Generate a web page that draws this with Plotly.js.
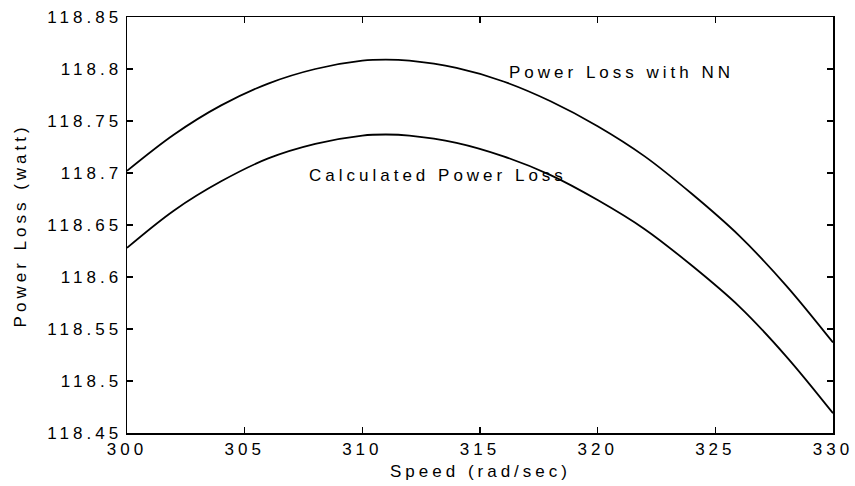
<!DOCTYPE html>
<html>
<head>
<meta charset="utf-8">
<script src="https://cdn.plot.ly/plotly-3.0.1.min.js"></script>
<style>
  html, body { margin: 0; padding: 0; background: #fff; }
  #chart { width: 855px; height: 486px; }
  /* wide character spacing of the plot lettering */
  #chart .main-svg text { letter-spacing: 4px; }
</style>
</head>
<body>
<div id="chart"></div>
<script>
// Speed samples (rad/sec)
const speed = [300, 302, 304, 306, 308, 310, 311, 312, 314, 316, 318, 320, 322, 324, 326, 328, 330];

// Power loss estimated by the neural network (watt)
const lossNN = [118.702, 118.737, 118.765, 118.786, 118.800, 118.808, 118.809, 118.808, 118.801,
                118.788, 118.769, 118.745, 118.716, 118.680, 118.640, 118.592, 118.537];

// Calculated power loss (watt)
const lossCalc = [118.628, 118.664, 118.692, 118.714, 118.728, 118.736, 118.737, 118.736, 118.729,
                  118.716, 118.698, 118.674, 118.646, 118.611, 118.572, 118.524, 118.469];

// Axis ticks
const xTickVals = [300, 305, 310, 315, 320, 325, 330];
const xTickText = ['300', '305', '310', '315', '320', '325', '330'];
const yTickVals = [118.45, 118.5, 118.55, 118.6, 118.65, 118.7, 118.75, 118.8, 118.85];
const yTickText = ['118.45', '118.5', '118.55', '118.6', '118.65', '118.7', '118.75', '118.8', '118.85'];

const FONT = '"Liberation Sans", Arial, Helvetica, sans-serif';
const textFont = { family: FONT, size: 17, color: '#000' };

const lineStyle = { color: '#000', width: 1.8, shape: 'spline', smoothing: 1 };

const traces = [
  { x: speed, y: lossNN, type: 'scatter', mode: 'lines', line: lineStyle, name: 'Power Loss with NN', hoverinfo: 'x+y' },
  { x: speed, y: lossCalc, type: 'scatter', mode: 'lines', line: lineStyle, name: 'Calculated Power Loss', hoverinfo: 'x+y' }
];

const axisCommon = {
  showgrid: false,
  zeroline: false,
  showline: true,
  linecolor: '#000',
  linewidth: 1.5,
  mirror: 'ticks',
  ticks: 'inside',
  ticklen: 6,
  tickwidth: 1.2,
  tickcolor: '#000',
  tickmode: 'array',
  tickfont: textFont
};

const layout = {
  width: 855,
  height: 486,
  margin: { l: 127, r: 22, t: 17, b: 53 },
  paper_bgcolor: '#fff',
  plot_bgcolor: '#fff',
  showlegend: false,
  font: { family: FONT, color: '#000' },
  xaxis: Object.assign({}, axisCommon, {
    range: [300, 330],
    tickvals: xTickVals,
    ticktext: xTickText
  }),
  yaxis: Object.assign({}, axisCommon, {
    range: [118.45, 118.85],
    tickvals: yTickVals,
    ticktext: yTickText
  }),
  annotations: [
    // axis titles
    { x: 0.5, y: -0.092, xref: 'paper', yref: 'paper', xanchor: 'center', yanchor: 'middle',
      text: 'Speed (rad/sec)', showarrow: false, font: textFont },
    { x: -0.151, y: 0.5, xref: 'paper', yref: 'paper', xanchor: 'center', yanchor: 'middle',
      text: 'Power Loss (watt)', textangle: -90, showarrow: false, font: textFont },
    // curve labels
    { x: 321.0, y: 118.797, xref: 'x', yref: 'y', xanchor: 'center', yanchor: 'middle',
      text: 'Power Loss with NN', showarrow: false, font: textFont },
    { x: 313.2, y: 118.698, xref: 'x', yref: 'y', xanchor: 'center', yanchor: 'middle',
      text: 'Calculated Power Loss', showarrow: false, font: textFont }
  ]
};

Plotly.newPlot('chart', traces, layout, { displayModeBar: false, staticPlot: true });
</script>
</body>
</html>
